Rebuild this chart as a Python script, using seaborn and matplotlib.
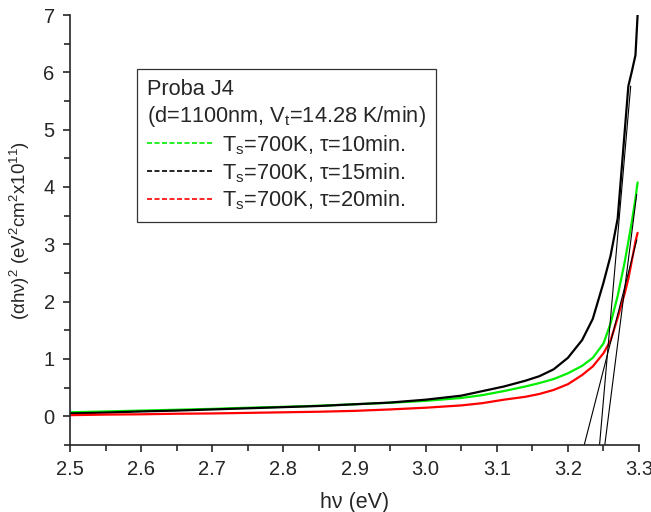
import numpy as np
import pandas as pd
import matplotlib
matplotlib.use("Agg")
import matplotlib.pyplot as plt
from matplotlib.lines import Line2D
from matplotlib.ticker import MultipleLocator, FormatStrFormatter
import seaborn as sns

# Photon energy grid (eV)
energy = [2.50, 2.55, 2.60, 2.65, 2.70, 2.75, 2.80, 2.85, 2.90, 2.95,
          3.00, 3.05, 3.08, 3.11, 3.14, 3.16, 3.18, 3.20, 3.22, 3.235,
          3.25, 3.26, 3.27, 3.28, 3.285, 3.29, 3.295, 3.298]

# (alpha*h*nu)^2, units of 1e11 eV^2 cm^-2
tau10 = [0.07, 0.085, 0.10, 0.115, 0.13, 0.15, 0.165, 0.185, 0.21, 0.235,
         0.27, 0.32, 0.37, 0.44, 0.52, 0.58, 0.65, 0.75, 0.88, 1.02,
         1.27, 1.62, 2.10, 2.70, 3.05, 3.40, 3.80, 4.08]
tau15 = [0.05, 0.065, 0.085, 0.10, 0.12, 0.14, 0.16, 0.18, 0.21, 0.24,
         0.29, 0.36, 0.44, 0.52, 0.62, 0.70, 0.82, 1.02, 1.33, 1.70,
         2.33, 2.80, 3.45, 4.99, 5.76, 6.02, 6.30, 7.00]
tau20 = [0.02, 0.03, 0.035, 0.045, 0.05, 0.06, 0.07, 0.08, 0.095, 0.12,
         0.15, 0.19, 0.23, 0.29, 0.34, 0.39, 0.46, 0.56, 0.72, 0.87,
         1.10, 1.32, 1.72, 2.15, 2.40, 2.72, 3.05, 3.20]

series_labels = ["T$_\\mathregular{s}$=700K, τ=10min.",
                 "T$_\\mathregular{s}$=700K, τ=15min.",
                 "T$_\\mathregular{s}$=700K, τ=20min."]
series_colors = ["#00ee00", "#000000", "#ff0000"]

# Linear extrapolation of the absorption edge: band gap Eg, slope, top of fit line
fit_eg = [3.257, 3.248, 3.2333]
fit_slope = [97.5, 143.0, 48.4]
fit_top = [3.87, 5.76, 3.08]

df = pd.DataFrame({
    "energy": energy * 3,
    "value": tau10 + tau15 + tau20,
    "series": [series_labels[0]] * len(energy)
              + [series_labels[1]] * len(energy)
              + [series_labels[2]] * len(energy),
})

sns.set_style("ticks")
plt.rcParams["font.family"] = ["Liberation Sans", "DejaVu Sans"]
plt.rcParams["mathtext.fontset"] = "custom"
plt.rcParams["mathtext.rm"] = "Liberation Sans"
plt.rcParams["mathtext.it"] = "Liberation Sans"

fig = plt.figure(figsize=(6.51, 5.12), dpi=100)
ax = fig.add_axes([0.1075, 0.1309, 0.8741, 0.8398])

sns.lineplot(data=df, x="energy", y="value", hue="series",
             palette=dict(zip(series_labels, series_colors)),
             linewidth=1.6, legend=False, ax=ax, sort=False)

y_bottom = -0.5
for eg, k, top in zip(fit_eg, fit_slope, fit_top):
    ys = np.array([y_bottom, top])
    xs = eg + ys / k
    ax.plot(xs, ys, color="black", linewidth=0.8)

ax.set_xlim(2.5, 3.3)
ax.set_ylim(-0.5, 7)
ax.xaxis.set_major_locator(MultipleLocator(0.1))
ax.xaxis.set_minor_locator(MultipleLocator(0.05))
ax.yaxis.set_major_locator(MultipleLocator(1))
ax.yaxis.set_minor_locator(MultipleLocator(0.5))
ax.xaxis.set_major_formatter(FormatStrFormatter("%.1f"))
ax.tick_params(which="major", direction="out", length=5, width=1.2,
               labelsize=14.5, pad=6)
ax.tick_params(which="minor", direction="out", length=4, width=1.2)
for s in ["left", "bottom"]:
    ax.spines[s].set_linewidth(1.2)
sns.despine(ax=ax)

ax.set_xlabel("hν (eV)", fontsize=15.5, labelpad=9)
ax.set_ylabel("(αhν)$^\\mathregular{2}$ (eV$^\\mathregular{2}$cm$^\\mathregular{2}$x10$^\\mathregular{11}$)",
              fontsize=13.5, labelpad=8)

handles = [Line2D([], [], color=c, linewidth=1.2, linestyle=(0, (3, 1.5)))
           for c in series_colors]
leg = ax.legend(handles, series_labels,
                title="Proba J4\n(d=1100nm, V$_\\mathregular{t}$=14.28 K/min)",
                loc="upper left", bbox_to_anchor=(0.118, 0.874),
                borderaxespad=0, fontsize=15.7, title_fontsize=15.7,
                alignment="left", frameon=True, fancybox=False,
                edgecolor="black", handlelength=3.0, handletextpad=0.45,
                labelspacing=0.2, borderpad=0.45)
leg.get_frame().set_linewidth(0.9)

fig.savefig("out.png", dpi=100)
